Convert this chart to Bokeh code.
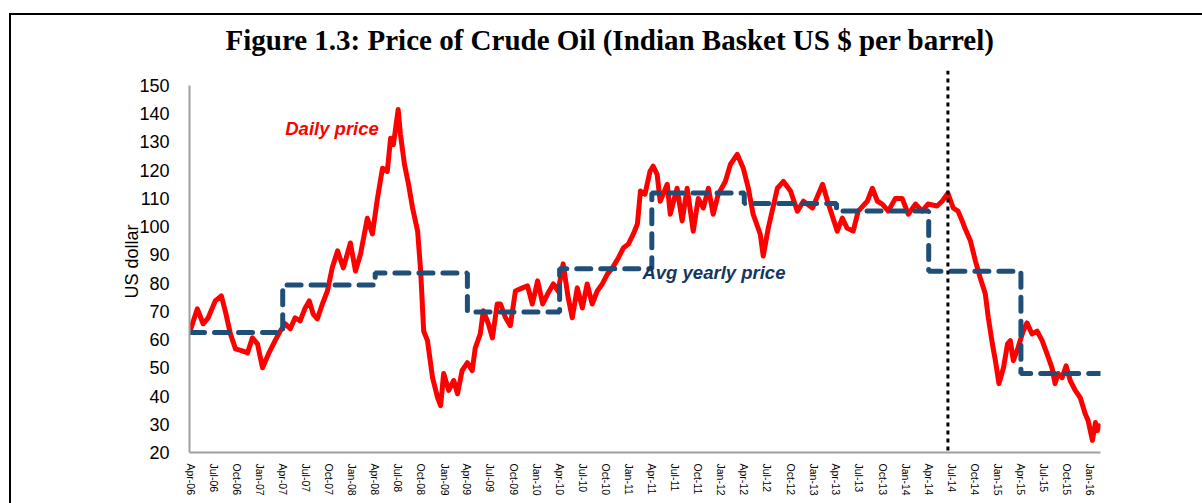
import pandas as pd
from bokeh.plotting import figure
from bokeh.models import Range1d, FixedTicker, DatetimeTickFormatter, Span, Label
from bokeh.embed import file_html
from bokeh.resources import INLINE

# ---------------- data ----------------
daily_dates = [
    "2006-04-01", "2006-04-28", "2006-05-21", "2006-06-10", "2006-07-08", "2006-08-01",
    "2006-08-17", "2006-09-06", "2006-09-26", "2006-10-23", "2006-11-13", "2006-12-02",
    "2006-12-22", "2007-01-11", "2007-02-04", "2007-03-02", "2007-03-22", "2007-04-11",
    "2007-05-01", "2007-05-20", "2007-06-09", "2007-06-29", "2007-07-15", "2007-07-31",
    "2007-08-16", "2007-09-05", "2007-09-25", "2007-10-14", "2007-11-04", "2007-11-27",
    "2007-12-25", "2008-01-14", "2008-02-03", "2008-03-01", "2008-03-21", "2008-04-10",
    "2008-04-30", "2008-05-19", "2008-06-01", "2008-06-12", "2008-07-01", "2008-07-10",
    "2008-07-26", "2008-08-11", "2008-08-27", "2008-09-16", "2008-09-28", "2008-10-10",
    "2008-10-25", "2008-11-14", "2008-12-04", "2008-12-16", "2008-12-28", "2009-01-17",
    "2009-02-06", "2009-02-21", "2009-03-11", "2009-04-01", "2009-04-20", "2009-05-02",
    "2009-05-22", "2009-06-03", "2009-06-23", "2009-07-09", "2009-07-28", "2009-08-10",
    "2009-08-30", "2009-09-18", "2009-10-08", "2009-11-05", "2009-11-25", "2009-12-14",
    "2010-01-04", "2010-01-24", "2010-02-13", "2010-03-07", "2010-03-26", "2010-04-15",
    "2010-05-05", "2010-05-21", "2010-06-10", "2010-06-30", "2010-07-19", "2010-08-08",
    "2010-08-28", "2010-09-17", "2010-10-07", "2010-10-27", "2010-11-20", "2010-12-09",
    "2010-12-29", "2011-01-18", "2011-02-03", "2011-02-15", "2011-03-05", "2011-03-25",
    "2011-04-06", "2011-04-22", "2011-05-04", "2011-06-01", "2011-06-13", "2011-07-10",
    "2011-07-30", "2011-08-19", "2011-09-12", "2011-10-02", "2011-10-22", "2011-11-11",
    "2011-11-30", "2011-12-20", "2012-01-17", "2012-02-06", "2012-03-04", "2012-03-28",
    "2012-04-17", "2012-05-06", "2012-06-03", "2012-06-15", "2012-07-05", "2012-08-10",
    "2012-09-03", "2012-10-01", "2012-10-28", "2012-11-21", "2012-12-27", "2013-02-05",
    "2013-02-28", "2013-04-04", "2013-04-24", "2013-05-13", "2013-06-06", "2013-06-26",
    "2013-08-01", "2013-08-21", "2013-09-10", "2013-09-29", "2013-10-23", "2013-11-20",
    "2013-12-17", "2014-01-10", "2014-02-08", "2014-03-06", "2014-03-29", "2014-05-04",
    "2014-05-24", "2014-06-16", "2014-07-07", "2014-07-26", "2014-08-16", "2014-08-22",
    "2014-09-13", "2014-10-03", "2014-10-22", "2014-11-11", "2014-11-23", "2014-12-09",
    "2014-12-21", "2015-01-04", "2015-01-22", "2015-02-07", "2015-02-18", "2015-03-02",
    "2015-03-20", "2015-04-10", "2015-04-25", "2015-05-15", "2015-06-04", "2015-06-24",
    "2015-07-13", "2015-08-02", "2015-08-14", "2015-08-26", "2015-09-11", "2015-09-27",
    "2015-10-13", "2015-11-02", "2015-11-22", "2015-12-11", "2015-12-23", "2016-01-09",
    "2016-01-21", "2016-01-29", "2016-02-06",
]
daily_price = [
    63.5, 70.9, 65.6, 67.7, 73.7, 75.5,
    70.0, 62.0, 56.7, 56.0, 55.3, 60.6,
    58.5, 50.0, 55.0, 59.6, 63.0, 65.6,
    63.8, 67.7, 66.6, 71.2, 73.7, 69.0,
    67.3, 72.6, 77.2, 85.4, 91.4, 85.4,
    94.2, 84.3, 90.3, 103.0, 97.4, 110.0,
    120.7, 119.6, 131.3, 129.0, 141.5, 132.7,
    122.0, 115.0, 106.6, 98.4, 84.3, 63.0,
    59.6, 46.5, 39.4, 36.6, 48.0, 42.0,
    45.5, 40.8, 49.0, 51.8, 49.0, 57.0,
    62.0, 70.2, 65.6, 60.6, 72.6, 72.6,
    67.7, 64.9, 77.2, 78.3, 79.0, 72.6,
    80.8, 72.6, 76.2, 79.7, 77.2, 86.8,
    74.8, 67.7, 78.3, 71.2, 79.7, 72.6,
    77.2, 79.7, 83.2, 85.4, 89.0, 92.4,
    93.8, 97.4, 101.0, 112.6, 111.5, 119.6,
    121.4, 118.5, 109.0, 115.0, 104.4, 113.6,
    102.0, 113.6, 98.4, 110.0, 106.6, 113.6,
    104.4, 111.5, 116.0, 122.0, 125.6, 120.7,
    113.6, 104.4, 97.4, 89.6, 99.5, 113.6,
    116.0, 112.6, 105.5, 109.0, 106.6, 115.0,
    108.0, 98.4, 103.0, 99.5, 98.4, 105.5,
    109.0, 113.6, 109.0, 108.0, 105.5, 110.0,
    110.0, 104.4, 108.0, 105.5, 108.0, 107.3,
    109.0, 111.8, 106.6, 105.5, 101.0, 99.5,
    95.0, 87.8, 81.8, 76.2, 67.7, 58.5,
    52.5, 44.4, 50.0, 58.5, 59.6, 52.5,
    57.0, 63.0, 65.9, 62.0, 63.0, 59.6,
    55.0, 50.0, 44.4, 48.0, 46.5, 50.7,
    45.5, 42.0, 39.4, 33.8, 31.3, 24.3,
    30.6, 27.8, 30.3,
]

# fiscal-year (Apr-Mar) average prices
fy_start = ["2006-04-01", "2007-04-01", "2008-04-01", "2009-04-01", "2010-04-01",
            "2011-04-01", "2012-04-01", "2013-04-01", "2014-04-01", "2015-04-01"]
fy_avg = [62.5, 79.3, 83.6, 69.8, 85.1, 111.9, 108.2, 105.5, 84.2, 48.0]
series_end = "2016-02-08"

event_date = "2014-06-16"

y_ticks = [20, 30, 40, 50, 60, 70, 80, 90, 100, 110, 120, 130, 140, 150]
x_tick_dates = list(pd.date_range("2006-04-01", "2016-01-01", freq="QS-JAN"))

# ---------------- figure ----------------
x_daily = pd.to_datetime(daily_dates)
x_step = list(pd.to_datetime(fy_start)) + [pd.Timestamp(series_end)]
y_step = fy_avg + [fy_avg[-1]]

p = figure(
    width=1193, height=492,
    x_axis_type="datetime",
    x_range=Range1d(pd.Timestamp("2006-03-28"), pd.Timestamp("2016-02-10")),
    y_range=Range1d(20, 155.3),
    output_backend="svg", toolbar_location=None,
    min_border_left=180, min_border_right=102, min_border_top=52, min_border_bottom=51,
    title="Figure 1.3: Price of Crude Oil (Indian Basket US $ per barrel)",
)
# frame of the whole figure: thin black lines on top and left (drawn behind a transparent canvas)
p.styles = {
    "margin-top": "11px", "margin-left": "9px",
    "background": ("linear-gradient(#000,#000) 0 2px / 100% 2px no-repeat, "
                   "linear-gradient(#000,#000) 0 2px / 2px 100% no-repeat, #fff"),
}
p.border_fill_color = None

p.title.text_font = "Liberation Serif"
p.title.text_font_size = "29px"
p.title.text_font_style = "bold"
p.title.text_color = "black"
p.title.align = "left"
p.title.offset = 36
p.title.text_line_height = 0.8
p.title.vertical_align = "top"
p.title.standoff = 25

p.outline_line_color = None
p.xgrid.grid_line_color = None
p.ygrid.grid_line_color = None
p.background_fill_color = "white"

# daily line
p.line(x_daily, daily_price, line_color="#FF0000", line_width=5, line_join="round")
# yearly average step
p.step(x_step, y_step, mode="after", line_color="#1F4E79", line_width=5,
       line_dash="14 10", line_cap="round")

# event line
p.add_layout(Span(location=pd.Timestamp(event_date), dimension="height",
                  line_color="black", line_width=3, line_dash="4 4"))

# labels
p.add_layout(Label(x=pd.Timestamp("2007-04-11"), y=134.8, text="Daily price",
                   text_font="Liberation Sans", text_font_size="18.5px",
                   text_font_style="bold italic", text_color="#FF0000",
                   text_baseline="middle"))
p.add_layout(Label(x=pd.Timestamp("2011-02-23"), y=83.6, text="Avg yearly price",
                   text_font="Liberation Sans", text_font_size="18.5px",
                   text_font_style="bold italic", text_color="#17365D",
                   text_baseline="middle"))

# axes
yax = p.yaxis[0]
yax.ticker = FixedTicker(ticks=y_ticks)
yax.bounds = (20, 150)
yax.axis_line_color = "#A0A0A0"
yax.axis_line_width = 2
yax.major_tick_line_color = None
yax.minor_tick_line_color = None
yax.major_label_standoff = 14
yax.major_label_text_font = "Liberation Sans"
yax.major_label_text_font_size = "18px"
yax.major_label_text_color = "black"
yax.axis_label = "US dollar"
yax.axis_label_text_font = "Liberation Sans"
yax.axis_label_text_font_size = "18px"
yax.axis_label_text_font_style = "normal"
yax.axis_label_text_color = "black"
yax.axis_label_standoff = -6

xax = p.xaxis[0]
xax.ticker = FixedTicker(ticks=[t.value // 10**6 for t in x_tick_dates])
fmt = "%b-%y"
xax.formatter = DatetimeTickFormatter(months=fmt, days=fmt, years=fmt, hours=fmt,
                                      minutes=fmt, seconds=fmt, milliseconds=fmt,
                                      minsec=fmt, hourmin=fmt, microseconds=fmt)
xax.major_label_orientation = "vertical"
xax.axis_line_color = "#A0A0A0"
xax.axis_line_width = 2
xax.major_tick_line_color = None
xax.minor_tick_line_color = None
xax.major_label_standoff = 5
xax.major_label_text_font = "Liberation Sans"
xax.major_label_text_font_size = "10.5px"
xax.major_label_text_color = "black"

open("out.html", "w").write(file_html(p, INLINE))
